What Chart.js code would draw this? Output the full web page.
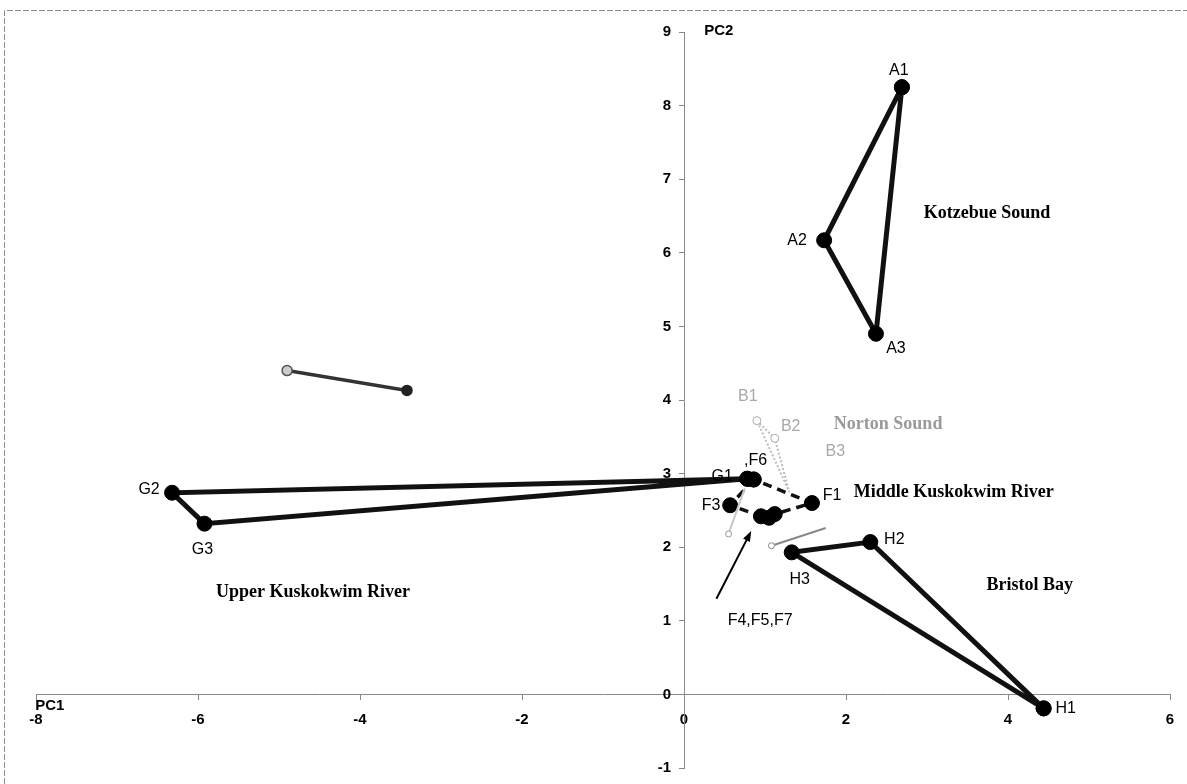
<!DOCTYPE html>
<html>
<head>
<meta charset="utf-8">
<script src="https://cdn.jsdelivr.net/npm/chart.js@4.4.0/dist/chart.umd.min.js"></script>
<style>
  html, body { margin: 0; padding: 0; background: #fff; }
  #wrap { position: relative; width: 1187px; height: 784px; }
</style>
</head>
<body>
<div id="wrap"><canvas id="chart" width="1187" height="784"></canvas></div>
<script>
// PC scores, one group per region
const kotzebueNames = ['A1', 'A2', 'A3'];
const kotzebuePC1 = [2.69, 1.73, 2.37];
const kotzebuePC2 = [8.25, 6.17, 4.90];

const nortonNames = ['B1', 'B2', 'B3'];
const nortonPC1 = [0.90, 1.12, 1.30];
const nortonPC2 = [3.72, 3.48, 2.75];

// polygon order: F6, F3, F4, F5, F7, F1
const middleNames = ['F6', 'F3', 'F4', 'F5', 'F7', 'F1'];
const middlePC1 = [0.86, 0.57, 0.95, 1.05, 1.12, 1.58];
const middlePC2 = [2.92, 2.57, 2.42, 2.40, 2.45, 2.60];

const upperNames = ['G1', 'G2', 'G3'];
const upperPC1 = [0.78, -6.32, -5.92];
const upperPC2 = [2.93, 2.74, 2.32];

const bristolNames = ['H1', 'H2', 'H3'];
const bristolPC1 = [4.44, 2.30, 1.33];
const bristolPC2 = [-0.19, 2.07, 1.93];

// faint grey pair on the left (its caption is not legible)
const greyPC1 = [-4.90, -3.42];
const greyPC2 = [4.40, 4.13];

// faint unlabelled strokes in the centre
const faintAPC1 = [0.55, 0.75];
const faintAPC2 = [2.18, 2.80];
const faintBPC1 = [1.08, 1.75];
const faintBPC2 = [2.02, 2.26];

// region captions
const regionNames = ['Kotzebue Sound', 'Norton Sound', 'Middle Kuskokwim River', 'Upper Kuskokwim River', 'Bristol Bay'];
const regionPC1 = [3.74, 2.52, 3.33, -4.58, 4.27];
const regionPC2 = [6.54, 3.67, 2.74, 1.39, 1.48];

// callout for the overlapping points
const calloutText = 'F4,F5,F7';
const calloutPC1 = [0.94, 0.40, 0.83];   // label, arrow tail, arrow head
const calloutPC2 = [1.00, 1.30, 2.22];

const xTicks = [-8, -6, -4, -2, 0, 2, 4, 6];
const yTicks = [-1, 0, 1, 2, 3, 4, 5, 6, 7, 8, 9];

const toPoints = (xs, ys) => xs.map((x, i) => ({ x: x, y: ys[i] }));
const closed = (xs, ys) => { const p = toPoints(xs, ys); return p.concat([p[0]]); };

// label offsets in px from the point
const labelStyle = {
  A1: [-3, -17], A2: [-27, 0], A3: [20, 15],
  B1: [-9, -24], B2: [16, -12], B3: [46, -40],
  F6: [2, -19, ',F6'], F3: [-19, 0], F1: [20, -7],
  G1: [-25, -2], G2: [-23, -3], G3: [-2, 26],
  H1: [22, 0], H2: [24, -2], H3: [8, 27]
};

const solid = (data, extra) => Object.assign({
  data: data, showLine: true, tension: 0, clip: false,
  borderColor: '#111', borderWidth: 5,
  pointRadius: 7.5, pointBackgroundColor: '#000', pointBorderColor: '#000', pointBorderWidth: 1
}, extra || {});

const datasets = [
  solid(toPoints(greyPC1, greyPC2), { borderColor: '#333', borderWidth: 3.5, pointRadius: 5, pointBackgroundColor: ['#ccc', '#222'], pointBorderColor: ['#555', '#222'], pointBorderWidth: 1.5 }),
  solid(toPoints(faintAPC1, faintAPC2), { borderColor: '#c8c8c8', borderWidth: 2, pointRadius: [3, 0], pointBackgroundColor: '#fff', pointBorderColor: '#999' }),
  solid(toPoints(faintBPC1, faintBPC2), { borderColor: '#888', borderWidth: 2, pointRadius: [3, 0], pointBackgroundColor: '#fff', pointBorderColor: '#888' }),
  solid(closed(nortonPC1, nortonPC2), { borderColor: '#bdbdbd', borderWidth: 2, borderDash: [2, 2], pointRadius: [4, 4, 0, 0], pointBackgroundColor: '#fff', pointBorderColor: '#aaa' }),
  solid(closed(upperPC1, upperPC2)),
  solid(closed(middlePC1, middlePC2), { borderWidth: 3.5, borderDash: [9, 6] }),
  solid(closed(kotzebuePC1, kotzebuePC2)),
  solid(closed(bristolPC1, bristolPC2))
];

const groups = [
  [kotzebueNames, kotzebuePC1, kotzebuePC2, '#000'],
  [nortonNames, nortonPC1, nortonPC2, '#a8a8a8'],
  [middleNames, middlePC1, middlePC2, '#000'],
  [upperNames, upperPC1, upperPC2, '#000'],
  [bristolNames, bristolPC1, bristolPC2, '#000']
];

const annotate = {
  id: 'annotate',
  afterDraw(chart) {
    const ctx = chart.ctx;
    const sx = chart.scales.x, sy = chart.scales.y;
    ctx.save();

    // scanned frame
    ctx.strokeStyle = '#8a8a8a';
    ctx.lineWidth = 1;
    ctx.setLineDash([6, 2]);
    ctx.beginPath();
    ctx.moveTo(4.5, 784); ctx.lineTo(4.5, 10.5); ctx.lineTo(1187, 10.5);
    ctx.stroke();
    ctx.setLineDash([]);

    // y tick labels, left of the vertical axis
    ctx.fillStyle = '#000';
    ctx.font = 'bold 15px "Liberation Sans", Arial, sans-serif';
    ctx.textAlign = 'right';
    ctx.textBaseline = 'middle';
    const ax = sx.getPixelForValue(0);
    yTicks.forEach(v => ctx.fillText(String(v), ax - 13, sy.getPixelForValue(v)));

    // point labels
    ctx.font = '16px "Liberation Sans", Arial, sans-serif';
    ctx.textAlign = 'center';
    groups.forEach(([names, xs, ys, color]) => {
      names.forEach((n, i) => {
        const st = labelStyle[n];
        if (!st) return;
        ctx.fillStyle = color;
        ctx.fillText(st[2] || n, sx.getPixelForValue(xs[i]) + st[0], sy.getPixelForValue(ys[i]) + st[1]);
      });
    });

    // callout + arrow
    ctx.fillStyle = '#000';
    ctx.fillText(calloutText, sx.getPixelForValue(calloutPC1[0]), sy.getPixelForValue(calloutPC2[0]));
    const tx = sx.getPixelForValue(calloutPC1[1]), ty = sy.getPixelForValue(calloutPC2[1]);
    const hx = sx.getPixelForValue(calloutPC1[2]), hy = sy.getPixelForValue(calloutPC2[2]);
    const ang = Math.atan2(hy - ty, hx - tx);
    ctx.strokeStyle = '#000';
    ctx.lineWidth = 2;
    ctx.beginPath(); ctx.moveTo(tx, ty); ctx.lineTo(hx - 8 * Math.cos(ang), hy - 8 * Math.sin(ang)); ctx.stroke();
    ctx.beginPath();
    ctx.moveTo(hx, hy);
    ctx.lineTo(hx - 11 * Math.cos(ang - 0.35), hy - 11 * Math.sin(ang - 0.35));
    ctx.lineTo(hx - 11 * Math.cos(ang + 0.35), hy - 11 * Math.sin(ang + 0.35));
    ctx.closePath(); ctx.fill();

    // region captions
    ctx.font = 'bold 18px "Liberation Serif", "Times New Roman", serif';
    regionNames.forEach((n, i) => {
      ctx.fillStyle = n === 'Norton Sound' ? '#9a9a9a' : '#000';
      ctx.fillText(n, sx.getPixelForValue(regionPC1[i]), sy.getPixelForValue(regionPC2[i]));
    });

    // axis titles
    ctx.fillStyle = '#000';
    ctx.font = 'bold 15px "Liberation Sans", Arial, sans-serif';
    ctx.fillText('PC2', sx.getPixelForValue(0.43), sy.getPixelForValue(9.02));
    ctx.fillText('PC1', sx.getPixelForValue(-7.83), sy.getPixelForValue(-0.15));
    ctx.restore();
  }
};

new Chart(document.getElementById('chart'), {
  type: 'scatter',
  data: { datasets: datasets },
  options: {
    responsive: false,
    animation: false,
    layout: { padding: { left: 36, right: 17, top: 32, bottom: 16 } },
    plugins: { legend: { display: false }, tooltip: { enabled: false } },
    scales: {
      x: {
        type: 'linear', min: -8, max: 6, position: { y: 0 },
        afterBuildTicks: (s) => { s.ticks = xTicks.map(v => ({ value: v })); },
        ticks: { color: '#000', padding: 11, font: { family: '"Liberation Sans", Arial', size: 15, weight: 'bold' } },
        grid: { drawOnChartArea: false, tickLength: 5, color: '#888' },
        border: { display: true, color: '#8a8a8a', dash: [5, 3] }
      },
      y: {
        type: 'linear', min: -1, max: 9, position: { x: 0 },
        afterBuildTicks: (s) => { s.ticks = yTicks.map(v => ({ value: v })); },
        ticks: { color: 'rgba(0,0,0,0)', font: { family: '"Liberation Sans", Arial', size: 14, weight: 'bold' } },
        grid: { drawOnChartArea: false, tickLength: 5, color: '#888' },
        border: { display: true, color: '#8a8a8a', dash: [2, 3] }
      }
    }
  },
  plugins: [annotate]
});
</script>
</body>
</html>
